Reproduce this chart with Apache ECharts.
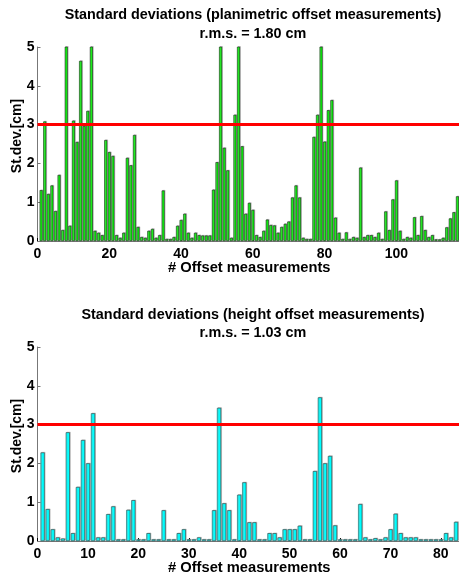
<!DOCTYPE html>
<html>
<head>
<meta charset="utf-8">
<script src="https://cdn.jsdelivr.net/npm/echarts@6/dist/echarts.min.js"></script>
<style>
html,body{margin:0;padding:0;background:#fff;}
#chart{width:459px;height:579px;}
</style>
</head>
<body>
<div id="chart"></div>
<script>
// ---- Data ----
const topTitle = 'Standard deviations (planimetric offset measurements)';
const topRms = 'r.m.s. = 1.80 cm';
const bottomTitle = 'Standard deviations (height offset measurements)';
const bottomRms = 'r.m.s. = 1.03 cm';
const xAxisName = '# Offset measurements';
const yAxisName = 'St.dev.[cm]';
const threshold = 3;

// planimetric offsets, measurements 1..117 (bars above 5 are clipped in the picture)
const topValues = [
  1.31, 3.08, 1.21, 1.43, 0.77, 1.70, 0.28, 5.5, 0.39, 3.10,
  2.55, 4.64, 2.96, 3.35, 5.5, 0.26, 0.21, 0.15, 2.60, 2.29,
  2.19, 0.15, 0.08, 0.21, 2.14, 1.95, 2.73, 0.36, 0.10, 0.08,
  0.26, 0.31, 0.08, 0.15, 1.30, 0.05, 0.05, 0.10, 0.39, 0.54,
  0.70, 0.21, 0.08, 0.21, 0.15, 0.14, 0.14, 0.14, 1.32, 2.03,
  5.5, 2.40, 1.82, 0.08, 3.25, 5.5, 2.44, 0.70, 0.98, 0.80,
  0.15, 0.10, 0.26, 0.55, 0.41, 0.40, 0.21, 0.36, 0.44, 0.50,
  1.12, 1.43, 1.12, 0.08, 0.05, 0.05, 2.68, 3.25, 5.5, 2.56,
  3.37, 3.63, 0.60, 0.21, 0.05, 0.22, 0.05, 0.10, 0.08, 1.89,
  0.10, 0.15, 0.15, 0.10, 0.21, 0.05, 0.76, 0.28, 1.07, 1.56,
  0.26, 0.05, 0.10, 0.08, 0.61, 0.15, 0.64, 0.28, 0.10, 0.15,
  0.04, 0.04, 0.08, 0.35, 0.58, 0.74, 1.15
];

// height offsets, measurements 1..83
const bottomValues = [
  2.28, 0.82, 0.30, 0.09, 0.06, 2.80, 0.20, 1.39, 2.60, 2.00,
  3.29, 0.09, 0.09, 0.69, 0.89, 0.04, 0.04, 0.80, 1.05, 0.04,
  0.04, 0.20, 0.04, 0.04, 0.79, 0.04, 0.04, 0.20, 0.30, 0.04,
  0.04, 0.09, 0.04, 0.04, 0.79, 3.43, 0.97, 0.79, 0.04, 1.19,
  1.51, 0.48, 0.48, 0.04, 0.04, 0.20, 0.20, 0.09, 0.30, 0.30,
  0.30, 0.39, 0.04, 0.04, 1.80, 3.70, 2.00, 2.19, 0.40, 0.04,
  0.04, 0.04, 0.04, 0.95, 0.09, 0.04, 0.07, 0.04, 0.09, 0.30,
  0.70, 0.20, 0.09, 0.09, 0.09, 0.04, 0.04, 0.04, 0.04, 0.04,
  0.20, 0.09, 0.49
];

const yTicks = [0, 1, 2, 3, 4, 5];
const topXTicks = [0, 20, 40, 60, 80, 100];
const bottomXTicks = [0, 10, 20, 30, 40, 50, 60, 70, 80];

// ---- Layout ----
const W = 459;
const gridLeft = 37.5, gridRight = -2;
const plotW = W - gridLeft - gridRight;
const topMax = topValues.length + 1;
const bottomMax = bottomValues.length + 1;
const topBarW = plotW / topMax * 0.8;
const bottomBarW = plotW / bottomMax * 0.8;

const FONT = 'Liberation Sans';
const axisGray = '#777';

function xAxisCfg(gridIndex, max, interval, ticks) {
  return {
    type: 'value', gridIndex, min: 0, max, interval,
    name: xAxisName, nameLocation: 'middle', nameGap: 19, nameMoveOverlap: false,
    nameTextStyle: {fontFamily: FONT, fontWeight: 'bold', fontSize: 14.7, color: '#000'},
    axisLine: {show: true, lineStyle: {color: axisGray, width: 1}},
    axisTick: {show: true, inside: true, length: 3, lineStyle: {color: '#000'}},
    axisLabel: {
      fontFamily: FONT, fontWeight: 'bold', fontSize: 14, color: '#000', margin: 6,
      showMaxLabel: false,
      formatter: v => (ticks.indexOf(v) >= 0 ? String(v) : '')
    },
    splitLine: {show: false}
  };
}
function yAxisCfg(gridIndex) {
  return {
    type: 'value', gridIndex, min: 0, max: 5, interval: 1,
    name: yAxisName, nameLocation: 'middle', nameGap: 13, nameMoveOverlap: false,
    nameTextStyle: {fontFamily: "'Liberation Sans Narrow', 'Liberation Sans'", fontWeight: 'bold', fontSize: 14, color: '#000', padding: [0, 0, 0, 16]},
    axisLine: {show: true, lineStyle: {color: axisGray, width: 1}},
    axisTick: {show: true, inside: true, length: 3, lineStyle: {color: axisGray}},
    axisLabel: {
      fontFamily: FONT, fontWeight: 'bold', fontSize: 14, color: '#000', margin: 3,
      formatter: v => (yTicks.indexOf(v) >= 0 ? String(v) : '')
    },
    splitLine: {show: false}
  };
}
function barSeries(idx, values, color, edge, barW) {
  return {
    type: 'bar', xAxisIndex: idx, yAxisIndex: idx,
    data: values.map((v, i) => [i + 1, v]),
    barWidth: barW, clip: true,
    itemStyle: {color, borderColor: edge, borderWidth: 0.5,
      shadowColor: 'rgba(150,150,150,0.8)', shadowOffsetX: 0.8, shadowOffsetY: -0.5, shadowBlur: 0},
    markLine: {
      silent: true, symbol: ['none', 'none'], label: {show: false},
      lineStyle: {color: '#ff0000', width: 3, type: 'solid'},
      data: [{yAxis: threshold}], animation: false
    },
    animation: false
  };
}

const chart = echarts.init(document.getElementById('chart'), null, {renderer: 'canvas'});
chart.setOption({
  backgroundColor: '#fff',
  animation: false,
  title: [
    {text: topTitle + '\n' + topRms, left: 248, top: 1, textAlign: 'center',
      textStyle: {fontFamily: FONT, fontWeight: 'bold', fontSize: 14.4, color: '#000', lineHeight: 19}},
    {text: bottomTitle + '\n' + bottomRms, left: 248, top: 301, textAlign: 'center',
      textStyle: {fontFamily: FONT, fontWeight: 'bold', fontSize: 14.4, color: '#000', lineHeight: 18}}
  ],
  grid: [
    {left: gridLeft, right: gridRight, top: 47, height: 194, containLabel: false, outerBoundsMode: 'none'},
    {left: gridLeft, right: gridRight, top: 347, height: 194, containLabel: false, outerBoundsMode: 'none'}
  ],
  xAxis: [xAxisCfg(0, topMax, 20, topXTicks), xAxisCfg(1, bottomMax, 10, bottomXTicks)],
  yAxis: [yAxisCfg(0), yAxisCfg(1)],
  series: [
    barSeries(0, topValues, '#00ff00', '#111', topBarW),
    barSeries(1, bottomValues, '#00ffff', '#1a3a3a', bottomBarW)
  ]
});
</script>
</body>
</html>
